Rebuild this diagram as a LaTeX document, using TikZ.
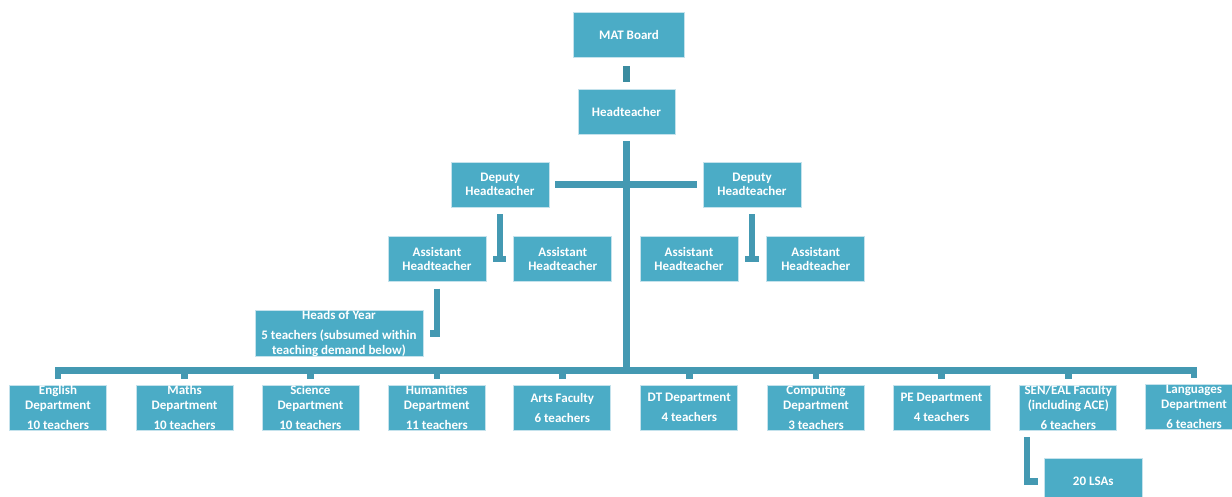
\documentclass[tikz,border=0pt]{standalone}
\usepackage{fontspec}
\setmainfont{Carlito}
\usetikzlibrary{calc}
\definecolor{boxfill}{HTML}{4BACC6}
\definecolor{boxedge}{HTML}{C4E2EC}
\definecolor{linkcol}{HTML}{4499B2}
\definecolor{stubcol}{HTML}{3B8CA0}
\tikzset{
  unit/.style={draw=boxedge, line width=0.8pt, fill=boxfill, text=white,
    font=\bfseries\fontsize{13}{14.5}\selectfont, align=center,
    inner sep=0pt, minimum width=97pt, minimum height=45pt},
  link/.style={draw=linkcol, line width=6.5pt, line join=miter},
}
\begin{document}
\begin{tikzpicture}[x=1pt,y=-1pt]
\useasboundingbox (0,0) rectangle (1232,497);
\clip (0,0) rectangle (1232,497);

% leadership
\node[unit, minimum width=111pt] (mat) at (629,35.3) {MAT Board};
\node[unit] (head) at (626.5,111.5) {Headteacher};
\node[unit, minimum width=98pt] (depL) at (500,184.5) {Deputy\\Headteacher};
\node[unit, minimum width=98pt] (depR) at (752,184.5) {Deputy\\Headteacher};
\node[unit, minimum width=98pt] (ah1) at (437,258.8) {Assistant\\Headteacher};
\node[unit, minimum width=98pt] (ah2) at (562.8,258.8) {Assistant\\Headteacher};
\node[unit, minimum width=98pt] (ah3) at (689,258.8) {Assistant\\Headteacher};
\node[unit, minimum width=98pt] (ah4) at (815.8,258.8) {Assistant\\Headteacher};
\node[unit, minimum width=168pt, minimum height=46pt] (hoy) at (339,333.5)
  {Heads of Year\\[5.8pt]5 teachers (subsumed within\\teaching demand below)};

% departments
\node[unit] (eng)     at (58,407.5)     {English\\Department\\[5.5pt]10 teachers};
\node[unit] (maths)   at (184.6,407.5)  {Maths\\Department\\[5.5pt]10 teachers};
\node[unit] (science) at (310.4,407.5)  {Science\\Department\\[5.5pt]10 teachers};
\node[unit] (hum)     at (436.8,407.5)  {Humanities\\Department\\[5.5pt]11 teachers};
\node[unit] (arts)    at (562.3,407.5)  {Arts Faculty\\[5.5pt]6 teachers};
\node[unit] (dt)      at (689.3,407.5)  {DT Department\\[5.5pt]4 teachers};
\node[unit] (comp)    at (816,407.5)    {Computing\\Department\\[5.5pt]3 teachers};
\node[unit] (pe)      at (941.5,407.5)  {PE Department\\[5.5pt]4 teachers};
\node[unit] (sen)     at (1068.3,407.5) {SEN/EAL Faculty\\(including ACE)\\[5.5pt]6 teachers};
\node[unit] (lang)    at (1194,407)     {Languages\\Department\\[5.5pt]6 teachers};
\node[unit, minimum width=97.5pt, minimum height=47pt] (lsa) at (1093.3,481.5) {20 LSAs};

\coordinate (bar) at (626.5,370.5);

% connectors
\draw[link, draw=stubcol, shorten <=8pt, shorten >=7pt] (mat.south -| head) -- (head);
\draw[link, shorten <=7pt] (head) -- (head |- bar);
\draw[link, shorten <=6pt, shorten >=6pt] (depL) -- (depR);

\draw[link, shorten <=7pt] (depL) -- ($(depL |- ah1)+(0,3.3)$);
\draw[link, shorten <=7pt, shorten >=7pt] (ah1) -- (ah2);
\draw[link, shorten <=7pt] (depR) -- ($(depR |- ah3)+(0,3.3)$);
\draw[link, shorten <=7pt, shorten >=7pt] (ah3) -- (ah4);

\draw[link, shorten <=7pt, shorten >=6.5pt] (ah1) |- (hoy);

\draw[link] ([yshift=6pt]eng.north) |- (bar) -| ([yshift=6pt]lang.north);
\foreach \d in {maths,science,hum,arts,dt,comp,pe,sen}
  \draw[link] (\d.north |- bar) -- ([yshift=6pt]\d.north);

\draw[link, shorten <=7pt, shorten >=6.5pt] ([xshift=7.5pt]sen.south west) |- (lsa);
\end{tikzpicture}
\end{document}
